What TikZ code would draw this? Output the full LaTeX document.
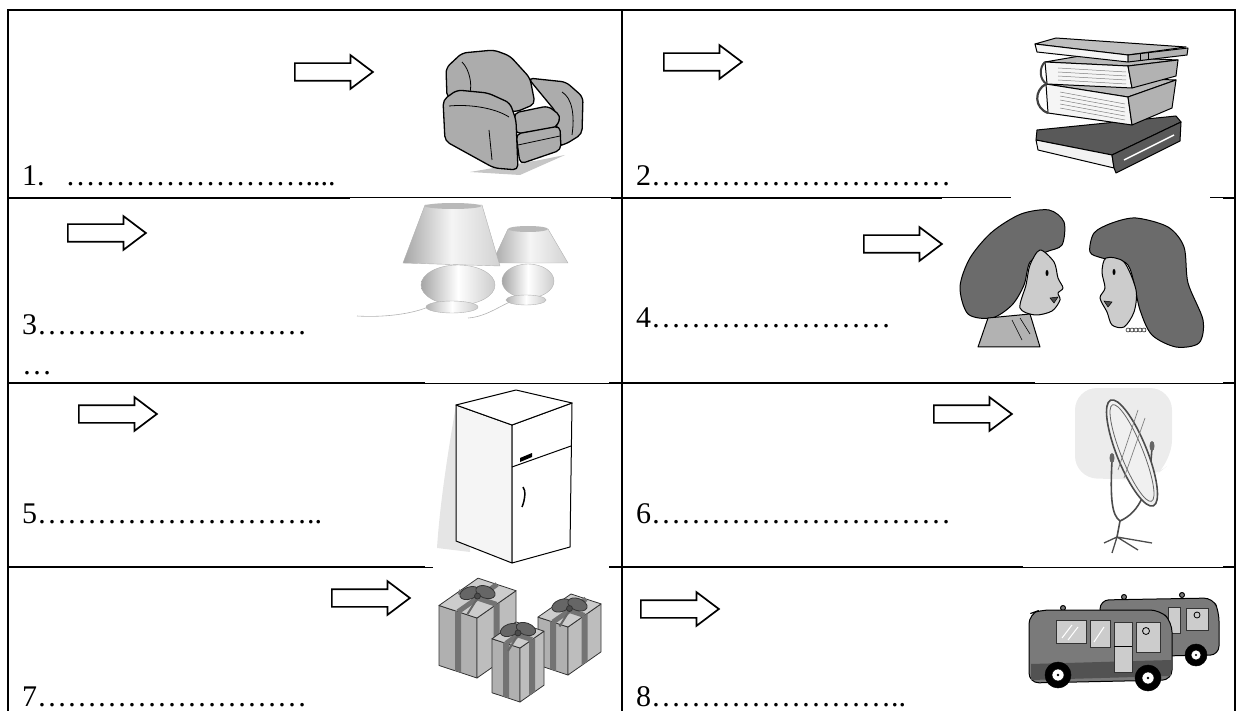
\documentclass[tikz,border=0pt]{standalone}
\usepackage{fontspec}
\setmainfont{Liberation Serif}
\usetikzlibrary{shapes.arrows}
\newcommand\cham[1]{\foreach\n in {1,...,#1}{…}}

\begin{document}
\begin{tikzpicture}[x=1pt,y=-1pt,
  vien/.style={line width=2.4pt},
  vienmanh/.style={line width=1pt},
  muiten/.style={single arrow, draw, line width=1.7pt, inner xsep=0pt, inner ysep=8pt,
    minimum height=78pt, minimum width=32pt, anchor=west,
    single arrow head extend=8pt, single arrow tip angle=74},
  chu/.style={anchor=base west, inner sep=0pt, font=\fontsize{30}{36}\selectfont},
  net/.style={draw=black, line width=1.3pt, line join=round},
  ghe/.style={net, fill=gray!65, rounded corners=5pt},
  sach/.style={net, line width=1pt},
  toc/.style={net, line width=1pt, fill=black!58},
  da/.style={net, line width=1pt, fill=gray!40},
  tulanh/.style={net, line width=1pt, fill=white},
  guong/.style={draw=black!70, line width=1.6pt},
  hop/.style={draw=black!80, line width=0.8pt, line join=round},
  xe/.style={net, line width=1pt, fill=black!52},
  kinh/.style={draw=black!80, line width=0.8pt, fill=gray!40},
]
\useasboundingbox (0,0) rectangle (1240,711);

% Vẽ khung bảng
\draw[vien] (8,711) -- (8,10) -- (1235,10) -- (1235,711);
\draw[vien] (622,10) -- (622,711);
\draw[vien] (8,198) -- (350,198);
\draw[vienmanh] (350,198) -- (611,198);
\draw[vien] (611,198) -- (942,198);
\draw[vienmanh] (942,198) -- (1011,198);
\draw[vienmanh] (1210,198) -- (1223,198);
\draw[vien] (1223,198) -- (1235,198);
\draw[vien] (8,383) -- (425,383);
\draw[vienmanh] (425,383) -- (609,383);
\draw[vien] (609,383) -- (1035,383);
\draw[vienmanh] (1035,383) -- (1223,383);
\draw[vien] (1223,383) -- (1235,383);
\draw[vien] (8,567) -- (425,567);
\draw[vienmanh] (425,567) -- (433,567);
\draw[vien] (609,567) -- (1023,567);
\draw[vienmanh] (1023,567) -- (1223,567);
\draw[vien] (1223,567) -- (1235,567);

% Các dòng chấm
\node[chu] (c1) at (22,186) {1.\hspace{21pt}\cham{8}....};
\node[chu] (c2) at (636,186) {2\cham{10}};
\node[chu] (c3) at (22,335) {3\cham{9}};
\node[chu] (c3b) at (22,374) {…};
\node[chu] (c4) at (636,328) {4\cham{8}};
\node[chu] (c5) at (22,523) {5\cham{9}..};
\node[chu] (c6) at (636,523) {6\cham{10}};
\node[chu] (c7) at (22,706) {7\cham{9}};
\node[chu] (c8) at (636,706) {8\cham{8}..};

% Các mũi tên
\node[muiten] (mt1) at (294,72) {};
\node[muiten] (mt2) at (663,62) {};
\node[muiten] (mt3) at (67,233) {};
\node[muiten] (mt4) at (863,244) {};
\node[muiten] (mt5) at (78,414) {};
\node[muiten] (mt6) at (933,414) {};
\node[muiten] (mt7) at (331,598) {};
\node[muiten] (mt8) at (640,609) {};

% Vẽ ghế bành
\fill[gray!45] (470,172) -- (520,175) -- (565,155) -- (540,160) -- cycle;
\draw[ghe] (447,98) -- (446,68) -- (462,53) -- (494,50) -- (510,56) -- (530,78) -- (535,104) -- (516,112) -- cycle;
\draw[ghe] (528,78) -- (566,82) -- (583,97) -- (582,134) -- (566,144) -- (558,146) -- (556,112) -- cycle;
\draw[ghe] (514,113) -- (548,106) -- (561,116) -- (556,128) -- (516,134) -- cycle;
\draw[ghe] (516,134) -- (560,126) -- (561,150) -- (520,164) -- cycle;
\draw[ghe] (443,100) -- (457,90) -- (488,93) -- (510,103) -- (516,120) -- (518,170) -- (494,168) -- (445,141) -- cycle;
\draw[line width=0.8pt] (449,106) .. controls (470,104) and (495,108) .. (509,117);
\draw[line width=0.8pt] (489,130) -- (492,160);
\draw[line width=0.8pt] (462,62) .. controls (470,70) and (472,85) .. (470,92);
\draw[line width=0.8pt] (562,92) .. controls (572,98) and (575,115) .. (572,135);
\draw[line width=0.8pt] (518,145) -- (560,136);

% Vẽ chồng sách
\draw[sach, fill=black!65] (1037,130) -- (1176,116) -- (1181,122) -- (1112,155) -- (1036,140) -- cycle;
\draw[sach, fill=gray!10] (1036,140) -- (1112,155) -- (1114,168) -- (1038,150) -- cycle;
\draw[sach, fill=black!65] (1112,155) -- (1181,122) -- (1180,141) -- (1116,173) -- (1114,168) -- cycle;
\draw[white, line width=1.5pt] (1124,160) -- (1174,135);
\draw[sach, fill=gray!55] (1046,84) -- (1090,77) -- (1176,80) -- (1128,97) -- cycle;
\draw[sach, fill=gray!8] (1046,84) -- (1128,97) -- (1132,125) -- (1048,113) -- cycle;
\draw[sach, fill=gray!60] (1128,97) -- (1176,80) -- (1172,108) -- (1132,125) -- cycle;
\draw[sach, line width=2.2pt, black!75] (1046,84) .. controls (1034,90) and (1034,108) .. (1048,113);
\foreach \i in {1,...,5}
  \draw[gray, line width=0.5pt] (1060,{88+\i*4}) -- (1125,{100+\i*4});
\draw[sach, fill=gray!55] (1045,62) -- (1080,56) -- (1178,60) -- (1128,66) -- cycle;
\draw[sach, fill=gray!8] (1045,62) -- (1128,66) -- (1132,88) -- (1047,84) -- cycle;
\draw[sach, fill=gray!60] (1128,66) -- (1178,60) -- (1176,76) -- (1132,88) -- cycle;
\draw[sach, line width=2pt, black!75] (1045,62) .. controls (1039,67) and (1039,80) .. (1047,84);
\foreach \i in {1,...,4}
  \draw[gray, line width=0.5pt] (1058,{64+\i*4}) -- (1126,{68+\i*4});
\draw[sach, fill=gray!50] (1035,44) -- (1056,38) -- (1186,47) -- (1128,55) -- cycle;
\draw[sach, fill=gray!8] (1035,44) -- (1128,55) -- (1128,62) -- (1037,52) -- cycle;
\draw[sach, fill=gray!60] (1128,55) -- (1188,48) -- (1187,55) -- (1128,62) -- cycle;
\draw[line width=0.8pt] (1140,54) -- (1140,61) (1148,53) -- (1148,60);

% Vẽ hai cây đèn
\draw[gray!60, line width=0.6pt] (357,316) .. controls (390,318) and (420,312) .. (432,305);
\draw[gray!60, line width=0.6pt] (468,318) .. controls (485,317) and (500,306) .. (510,302);
\shade[left color=gray!70, right color=gray!35, middle color=gray!8, draw=gray!60] (508,229) -- (548,229) -- (568,263) -- (492,263) -- cycle;
\fill[gray!55] (528,229) ellipse [x radius=20, y radius=3];
\shade[left color=gray!70, right color=gray!40, middle color=white, draw=gray!60] (528,281) ellipse [x radius=26, y radius=17];
\shade[left color=gray!60, right color=gray!40, middle color=white, draw=gray!60] (526,300) ellipse [x radius=20, y radius=5];
\shade[left color=gray!70, right color=gray!35, middle color=gray!8, draw=gray!60] (425,205) -- (482,205) -- (500,266) -- (403,263) -- cycle;
\fill[gray!55] (453,206) ellipse [x radius=28, y radius=3];
\shade[left color=gray!70, right color=gray!40, middle color=white, draw=gray!60] (458,285) ellipse [x radius=37, y radius=20];
\shade[left color=gray!60, right color=gray!40, middle color=white, draw=gray!60] (452,307) ellipse [x radius=26, y radius=6];

% Vẽ hai cô gái
\draw[toc] plot[smooth cycle] coordinates {(1021,214) (1049,210) (1064,222) (1062,245) (1046,252) (1030,262) (1024,285) (1012,305) (992,318) (968,314) (960,287) (970,258) (992,232)};
\draw[net, line width=1pt, fill=gray!60] (988,318) -- (1030,314) -- (1040,347) -- (978,347) -- cycle;
\draw[line width=0.6pt] (1020,318) -- (1030,334) (1012,320) -- (1022,340);
\draw[da] plot[smooth cycle] coordinates {(1040,250) (1054,262) (1058,278) (1063,288) (1058,293) (1060,300) (1052,311) (1035,315) (1020,308) (1026,285) (1030,265)};
\fill (1047,273) ellipse [x radius=1.5, y radius=3];
\draw[fill=black!70, line width=0.5pt] (1050,298) -- (1058,297) -- (1054,303) -- cycle;
\draw[toc] plot[smooth cycle] coordinates {(1112,223) (1136,218) (1168,227) (1184,247) (1188,283) (1203,320) (1199,343) (1176,347) (1152,335) (1140,310) (1128,265) (1102,258) (1090,252) (1094,233)};
\draw[da] plot[smooth cycle] coordinates {(1106,258) (1124,262) (1136,290) (1134,312) (1124,327) (1112,325) (1107,312) (1100,298) (1105,288) (1102,272)};
\fill (1114,272) ellipse [x radius=1.5, y radius=3];
\draw[fill=black!70, line width=0.5pt] (1104,301) -- (1112,302) -- (1108,307) -- cycle;
\foreach \k in {0,...,4}
  \draw[fill=white, line width=0.5pt] ({1128+\k*4},330) circle (2);

% Vẽ tủ lạnh
\fill[gray!20] (437,548) .. controls (440,500) and (450,440) .. (456,405) -- (470,410) -- (470,552) -- cycle;
\draw[tulanh, fill=gray!8] (456,405) -- (512,425) -- (512,563) -- (456,541) -- cycle;
\draw[tulanh] (512,425) -- (572,403) -- (570,547) -- (512,563) -- cycle;
\draw[tulanh] (456,405) -- (516,390) -- (572,403) -- (512,425) -- cycle;
\draw[line width=1pt] (512,467) -- (571,446);
\fill (520,458) -- (532,453) -- (532,457) -- (520,462) -- cycle;
\draw[line width=1.5pt] (523,487) .. controls (526,490) and (525,500) .. (522,507);

% Vẽ gương đứng
\fill[gray!15, rounded corners=22pt] (1075,478) -- (1075,388) -- (1172,388) -- (1172,462) -- (1150,480) -- cycle;
\draw[guong] (1112,460) .. controls (1110,500) and (1112,515) .. (1120,521);
\draw[guong] (1152,446) .. controls (1150,490) and (1140,512) .. (1120,521);
\draw[guong] (1120,521) -- (1117,537);
\draw[guong, line width=1.3pt] (1117,537) -- (1104,543) (1117,537) -- (1152,543) (1117,537) -- (1112,553) (1117,537) -- (1138,550);
\draw[guong, fill=gray!12, rotate around={22:(1132,453)}] (1132,453) ellipse [x radius=15, y radius=57];
\draw[black!60, line width=0.8pt, rotate around={22:(1132,453)}] (1132,453) ellipse [x radius=11, y radius=52];
\draw[gray, line width=0.7pt] (1118,470) -- (1138,410) (1124,478) -- (1145,418);
\fill[black!60] (1112,458) ellipse [x radius=2.5, y radius=5];
\fill[black!60] (1152,446) ellipse [x radius=2.5, y radius=5];

% Vẽ ba hộp quà
\foreach \fx/\fy/\a/\b/\h in {477/618/38/39/60, 568/627/30/33/48, 520/648/28/24/54}{
  \draw[hop, fill=gray!62] ({\fx-\a},{\fy-0.33*\a}) -- (\fx,\fy) -- (\fx,\fy+\h) -- ({\fx-\a},{\fy-0.33*\a+\h}) -- cycle;
  \draw[hop, fill=gray!52] (\fx,\fy) -- ({\fx+\b},{\fy-0.7*\b}) -- ({\fx+\b},{\fy-0.7*\b+\h}) -- (\fx,\fy+\h) -- cycle;
  \draw[hop, fill=gray!40] ({\fx-\a},{\fy-0.33*\a}) -- (\fx,\fy) -- ({\fx+\b},{\fy-0.7*\b}) -- ({\fx-\a+\b},{\fy-0.33*\a-0.7*\b}) -- cycle;
  \fill[black!55] ({\fx-\a/2-3},{\fy-0.165*\a-1}) -- ({\fx-\a/2+3},{\fy-0.165*\a+1}) -- ({\fx-\a/2+3},{\fy-0.165*\a+1+\h}) -- ({\fx-\a/2-3},{\fy-0.165*\a-1+\h}) -- cycle;
  \fill[black!55] ({\fx+\b/2-3},{\fy-0.35*\b+2}) -- ({\fx+\b/2+3},{\fy-0.35*\b-2}) -- ({\fx+\b/2+3},{\fy-0.35*\b-2+\h}) -- ({\fx+\b/2-3},{\fy-0.35*\b+2+\h}) -- cycle;
  \draw[black!55, line width=5pt] ({\fx-\a/2},{\fy-0.165*\a}) -- ({\fx-\a/2+\b},{\fy-0.165*\a-0.7*\b});
  \draw[black!55, line width=5pt] ({\fx+\b/2},{\fy-0.35*\b}) -- ({\fx+\b/2-\a},{\fy-0.35*\b-0.33*\a});
  \draw[hop, fill=black!60, rotate around={20:({\fx+(\b-\a)/2-8},{\fy-0.165*\a-0.35*\b-5})}] ({\fx+(\b-\a)/2-8},{\fy-0.165*\a-0.35*\b-5}) ellipse [x radius=10, y radius=6];
  \draw[hop, fill=black!60, rotate around={-20:({\fx+(\b-\a)/2+8},{\fy-0.165*\a-0.35*\b-6})}] ({\fx+(\b-\a)/2+8},{\fy-0.165*\a-0.35*\b-6}) ellipse [x radius=10, y radius=6];
  \draw[black!60, line width=2pt] ({\fx+(\b-\a)/2},{\fy-0.165*\a-0.35*\b}) -- ({\fx+(\b-\a)/2-10},{\fy-0.165*\a-0.35*\b+16});
  \draw[hop, fill=black!70] ({\fx+(\b-\a)/2},{\fy-0.165*\a-0.35*\b-2}) circle (3);
}

% Vẽ hai xe buýt
\draw[xe] (1124,597) circle (2.5) (1182,595) circle (2.5);
\draw[xe, rounded corners=9pt] (1100,600) -- (1213,598) -- (1219,612) -- (1219,655) -- (1100,657) -- cycle;
\draw[kinh] (1168,607) rectangle (1180,633);
\draw[kinh] (1186,608) rectangle (1208,630);
\draw[line width=0.8pt] (1197,615) circle (3);
\draw[fill=black, line width=0.5pt] (1196,655) circle (11);
\draw[fill=white, line width=0.5pt] (1196,655) circle (5);
\fill (1196,655) circle (1.2);
\draw[xe] (1063,608) circle (2.5);
\draw[xe, rounded corners=10pt] (1029,614) -- (1040,610) -- (1160,610) -- (1172,622) -- (1172,680) -- (1029,683) -- cycle;
\fill[black!68] (1031,664) -- (1171,660) -- (1171,676) -- (1031,680) -- cycle;
\draw[kinh] (1056,620) rectangle (1086,643);
\draw[kinh] (1090,620) rectangle (1110,647);
\draw[kinh] (1114,622) rectangle (1132,672);
\draw[line width=0.8pt] (1114,646) -- (1132,646);
\draw[kinh] (1136,622) rectangle (1160,652);
\draw[line width=0.8pt] (1146,631) circle (3.5);
\draw[white, line width=1pt] (1062,638) -- (1072,625) (1068,640) -- (1078,627) (1094,642) -- (1104,627);
\draw[fill=black, line width=0.5pt] (1058,675) circle (13);
\draw[fill=white, line width=0.5pt] (1058,675) circle (6);
\fill (1058,675) circle (1.3);
\draw[fill=black, line width=0.5pt] (1148,678) circle (13);
\draw[fill=white, line width=0.5pt] (1148,678) circle (6);
\fill (1148,678) circle (1.3);
\end{tikzpicture}
\end{document}
